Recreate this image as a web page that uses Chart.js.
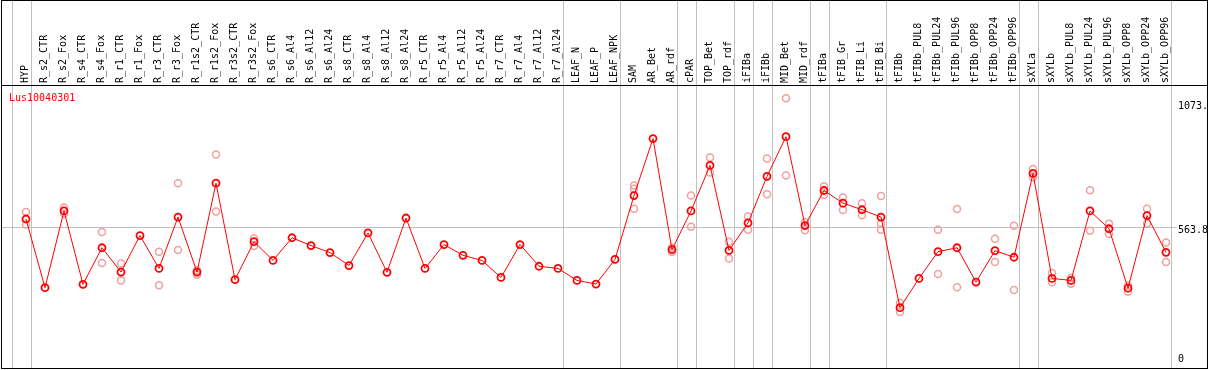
<!DOCTYPE html>
<html>
<head>
<meta charset="utf-8">
<script src="https://cdn.jsdelivr.net/npm/chart.js@4.4.1/dist/chart.umd.min.js"></script>
<style>
html, body { margin: 0; padding: 0; background: #fff; }
</style>
</head>
<body>
<canvas id="exprChart" width="1209" height="370"></canvas>
<script>
var geneName = "Lus10040301";

var samples = ["HYP", "R_s2_CTR", "R_s2_Fox", "R_s4_CTR", "R_s4_Fox", "R_r1_CTR", "R_r1_Fox", "R_r3_CTR", "R_r3_Fox",
    "R_r1s2_CTR", "R_r1s2_Fox", "R_r3s2_CTR", "R_r3s2_Fox", "R_s6_CTR", "R_s6_Al4", "R_s6_Al12", "R_s6_Al24",
    "R_s8_CTR", "R_s8_Al4", "R_s8_Al12", "R_s8_Al24", "R_r5_CTR", "R_r5_Al4", "R_r5_Al12", "R_r5_Al24",
    "R_r7_CTR", "R_r7_Al4", "R_r7_Al12", "R_r7_Al24", "LEAF_N", "LEAF_P", "LEAF_NPK", "SAM", "AR_Bet", "AR_rdf",
    "cPAR", "TOP_Bet", "TOP_rdf", "iFIBa", "iFIBb", "MID_Bet", "MID_rdf", "tFIBa", "tFIB_Gr", "tFIB_Li", "tFIB_Bi",
    "tFIBb", "tFIBb_PUL8", "tFIBb_PUL24", "tFIBb_PUL96", "tFIBb_OPP8", "tFIBb_OPP24", "tFIBb_OPP96",
    "sXYLa", "sXYLb", "sXYLb_PUL8", "sXYLb_PUL24", "sXYLb_PUL96", "sXYLb_OPP8", "sXYLb_OPP24", "sXYLb_OPP96"];

// mean expression per sample
var meanValues = [596, 314, 629, 328, 478, 378, 528, 393, 604, 378,
    743, 347, 503, 426, 519, 487, 458, 405, 539, 377,
    600, 393, 491, 447, 426, 356, 491, 402, 393, 344,
    329, 430, 692, 926, 470, 629, 816, 467, 580, 771,
    934, 569, 713, 661, 634, 604, 232, 352, 462, 478,
    337, 466, 439, 783, 352, 344, 629, 556, 312, 610,
    459];

// single replicates (null where hidden under the mean)
var rep1 = [625, null, 643, null, 543, 413, null, 462, 743, 386,
    861, null, 516, null, null, null, null, null, null, null,
    null, null, null, null, null, null, null, null, null, null,
    null, null, 733, null, 478, 692, 848, 503, 606, 844,
    1092, 584, 730, 684, 661, 690, 252, null, 552, 637,
    null, 515, 568, 801, 374, 354, 714, 577, 322, 638,
    500];
var rep2 = [573, null, 618, null, 415, 344, null, 324, 469, 367,
    627, null, 485, null, null, null, null, null, null, null,
    null, null, null, null, null, null, null, null, null, null,
    null, null, 720, null, 461, 564, 787, 434, 552, 698,
    775, 550, 695, 633, 611, 577, 214, null, 370, 316,
    null, 419, 305, 767, 336, 330, 548, 534, 297, 578,
    419];
var rep3 = [null, null, null, null, null, null, null, null, null, null,
    null, null, null, null, null, null, null, null, null, null,
    null, null, null, null, null, null, null, null, null, null,
    null, null, 638, null, null, null, null, null, null, null,
    null, null, null, null, null, 552, null, null, null, null,
    null, null, null, null, null, null, null, null, null, null,
    null];

var yTicks = [0, 563.8, 1073.5];
var yTickLabels = ["0", "563.8", "1073."];
var yMax = 1146;

// sample index after which a group separator is drawn
var groupEnds = [-1, 0, 28, 31, 34, 35, 37, 38, 39, 41, 42, 45, 52, 53, 60];

var monoFont = "'DejaVu Sans Mono', monospace";

var framePlugin = {
    id: 'frame',
    beforeDatasetsDraw: function (chart) {
        var ctx = chart.ctx;
        var xs = chart.scales.x, ys = chart.scales.y;
        var x0 = xs.getPixelForValue(0);
        var step = xs.getPixelForValue(1) - x0;
        ctx.save();
        ctx.strokeStyle = '#c0c0c0';
        ctx.lineWidth = 1;
        groupEnds.forEach(function (i) {
            var x = Math.round(x0 + (i + 0.25) * step) + 0.5;
            ctx.beginPath();
            ctx.moveTo(x, 0);
            ctx.lineTo(x, 369);
            ctx.stroke();
        });
        var gy = Math.round(ys.getPixelForValue(yTicks[1])) + 0.5;
        ctx.beginPath();
        ctx.moveTo(1, gy);
        ctx.lineTo(1177, gy);
        ctx.stroke();
        ctx.restore();
    },
    afterDraw: function (chart) {
        var ctx = chart.ctx;
        ctx.save();
        ctx.strokeStyle = '#000';
        ctx.lineWidth = 1;
        ctx.strokeRect(1.5, 0.5, 1206, 368);
        ctx.beginPath();
        ctx.moveTo(1, chart.chartArea.top + 0.5);
        ctx.lineTo(1208, chart.chartArea.top + 0.5);
        ctx.stroke();
        ctx.fillStyle = 'red';
        ctx.font = '10px ' + monoFont;
        ctx.textBaseline = 'alphabetic';
        ctx.fillText(geneName, 9, 101);
        ctx.restore();
    }
};

function repSet(data) {
    return {
        data: data,
        showLine: false,
        borderColor: '#f0a0a0',
        pointBorderColor: '#f0a0a0',
        pointBackgroundColor: 'rgba(0,0,0,0)',
        pointRadius: 3.5,
        pointBorderWidth: 1.5,
        order: 1
    };
}

var ctx = document.getElementById('exprChart').getContext('2d');
new Chart(ctx, {
    type: 'line',
    data: {
        labels: samples,
        datasets: [{
            data: meanValues,
            borderColor: '#ff0000',
            borderWidth: 1,
            pointBorderColor: '#ff0000',
            pointBackgroundColor: 'rgba(0,0,0,0)',
            pointRadius: 3.5,
            pointBorderWidth: 1.8,
            tension: 0,
            order: 0
        }, repSet(rep1), repSet(rep2), repSet(rep3)]
    },
    options: {
        responsive: false,
        animation: false,
        clip: false,
        layout: { padding: { left: 26, right: 0, top: 0, bottom: 3 } },
        plugins: { legend: { display: false }, tooltip: { enabled: false } },
        scales: {
            x: {
                type: 'category',
                position: 'top',
                offset: false,
                grid: { display: false, drawTicks: false },
                border: { display: false },
                ticks: {
                    autoSkip: false,
                    minRotation: 90,
                    maxRotation: 90,
                    padding: 2,
                    labelOffset: 11,
                    color: '#000',
                    font: { family: monoFont, size: 10 }
                },
                afterFit: function (scale) {
                    scale.height = 85;
                    scale.paddingLeft = 0;
                    scale.paddingRight = 0;
                }
            },
            y: {
                position: 'right',
                min: 0,
                max: yMax,
                grid: { display: false, drawTicks: false },
                border: { display: false },
                afterBuildTicks: function (scale) {
                    scale.ticks = yTicks.map(function (v) { return { value: v }; });
                },
                ticks: {
                    padding: 12,
                    labelOffset: 4,
                    color: '#000',
                    font: function (c) {
                        return { family: monoFont, size: 10, lineHeight: c.index === 0 ? 1.8 : 1.2 };
                    },
                    callback: function (value, index) {
                        return index === 0 ? [yTickLabels[0], ''] : yTickLabels[index];
                    }
                },
                afterFit: function (scale) {
                    scale.width = 43;
                    scale.paddingTop = 0;
                    scale.paddingBottom = 0;
                }
            }
        }
    },
    plugins: [framePlugin]
});
</script>
</body>
</html>
